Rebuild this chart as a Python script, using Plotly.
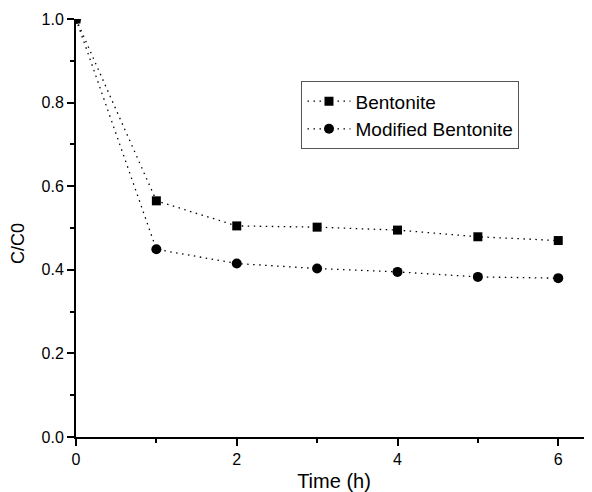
import plotly.graph_objects as go

time_h = [0, 1, 2, 3, 4, 5, 6]
bentonite = [1.0, 0.565, 0.505, 0.502, 0.495, 0.479, 0.470]
modified_bentonite = [1.0, 0.449, 0.415, 0.403, 0.395, 0.383, 0.380]

fig = go.Figure()
fig.add_trace(go.Scatter(
    x=time_h, y=bentonite, name="Bentonite", mode="lines+markers",
    line=dict(color="black", width=1.3, dash="1.5px,4.5px"),
    marker=dict(symbol="square", size=9, color="black"),
))
fig.add_trace(go.Scatter(
    x=time_h, y=modified_bentonite, name="Modified Bentonite", mode="lines+markers",
    line=dict(color="black", width=1.3, dash="1.5px,4.5px"),
    marker=dict(symbol="circle", size=10, color="black"),
))

font = dict(family="Liberation Sans, Arial, sans-serif", color="black")

# page body has an 8px margin, so the figure is slightly smaller and shifted
fig.update_layout(
    width=584, height=484,
    margin=dict(l=68, r=0, t=11, b=55),
    paper_bgcolor="white", plot_bgcolor="white",
    font=dict(size=16, **font),
    showlegend=True,
    legend=dict(
        x=0.437, y=0.851, xanchor="left", yanchor="top",
        bordercolor="#555555", borderwidth=1,
        font=dict(size=19, **font),
        bgcolor="white",
        tracegroupgap=0,
        itemwidth=43,
    ),
    xaxis=dict(
        range=[0, 6.42], showgrid=False, zeroline=False,
        showline=True, linecolor="black", linewidth=2,
        ticks="outside", tickcolor="black", ticklen=7, tickwidth=1.5,
        tickvals=[0, 2, 4, 6], ticktext=["0", "2", "4", "6"],
        minor=dict(tickvals=[1, 3, 5], ticks="outside", ticklen=4, tickwidth=1.5, tickcolor="black"),
        title=dict(text="Time (h)", font=dict(size=20, **font), standoff=9),
        tickfont=dict(size=16, **font),
    ),
    yaxis=dict(
        range=[0, 1.0], showgrid=False, zeroline=False,
        showline=True, linecolor="black", linewidth=2,
        ticks="outside", tickcolor="black", ticklen=7, tickwidth=1.5,
        tickvals=[0, 0.2, 0.4, 0.6, 0.8, 1.0],
        ticktext=["0.0", "0.2", "0.4", "0.6", "0.8", "1.0"],
        minor=dict(tickvals=[0.1, 0.3, 0.5, 0.7, 0.9], ticks="outside", ticklen=4, tickwidth=1.5, tickcolor="black"),
        tickfont=dict(size=16, **font),
    ),
    annotations=[dict(
        text="C/C0", textangle=-90, showarrow=False,
        xref="paper", yref="paper", x=-0.112, y=0.462,
        xanchor="center", yanchor="middle",
        font=dict(size=18, **font),
    )],
)

fig.write_html("out.html")
